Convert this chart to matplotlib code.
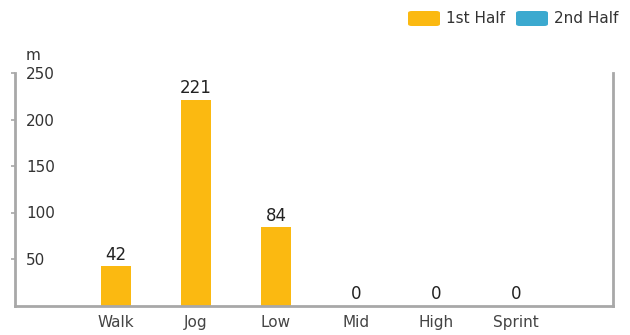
import matplotlib.pyplot as plt
import numpy as np
from matplotlib.patches import FancyBboxPatch

plt.rcParams['font.family'] = ['DejaVu Sans']

categories = ['Walk', 'Jog', 'Low', 'Mid', 'High', 'Sprint']
first_half = [42, 221, 84, 0, 0, 0]
series_names = ['1st Half', '2nd Half']
yticks = [50, 100, 150, 200, 250]

yellow = '#fbb911'
blue = '#3ba9cf'
grey = '#a8a8a8'

fig = plt.figure(figsize=(6.3, 3.35), dpi=100)
ax = fig.add_axes([15 / 630, 1 - 305.5 / 335, 598 / 630, 232.5 / 335])

x = np.arange(len(categories))
bars = ax.bar(x, first_half, width=0.375, color=yellow)

for xi, v in zip(x, first_half):
    ax.text(xi, v + 3, str(v), ha='center', va='bottom', fontsize=12, color='#222222')

ax.set_xlim(-1.2625, 6.2125)
ax.set_ylim(0, 250)
ax.set_xticks(x)
ax.set_xticklabels(categories, fontsize=11, color='#444444')
ax.tick_params(axis='x', length=0, pad=7)
ax.set_yticks(yticks)
ax.set_yticklabels([str(t) for t in yticks], fontsize=11, color='#333333')
ax.tick_params(axis='y', direction='out', length=3, width=1.2, color=grey, pad=-11)
for lab in ax.get_yticklabels():
    lab.set_horizontalalignment('left')

ax.spines['top'].set_visible(False)
for s in ['left', 'right', 'bottom']:
    ax.spines[s].set_color(grey)
    ax.spines[s].set_linewidth(2)

fig.text(33 / 630, 1 - 55 / 335, 'm', ha='center', va='center', fontsize=11, color='#333333')

# legend drawn at the top right
legend_items = [(408, series_names[0], yellow), (516, series_names[1], blue)]
for lx, name, col in legend_items:
    fig.patches.append(FancyBboxPatch((lx / 630, 1 - 26 / 335), 32 / 630, 15 / 335,
                                      boxstyle='round,pad=0,rounding_size=0.006',
                                      transform=fig.transFigure, facecolor=col, edgecolor='none'))
    fig.text((lx + 38) / 630, 1 - 18.5 / 335, name, ha='left', va='center', fontsize=11, color='#333333')

plt.savefig('out.png', dpi=100)
